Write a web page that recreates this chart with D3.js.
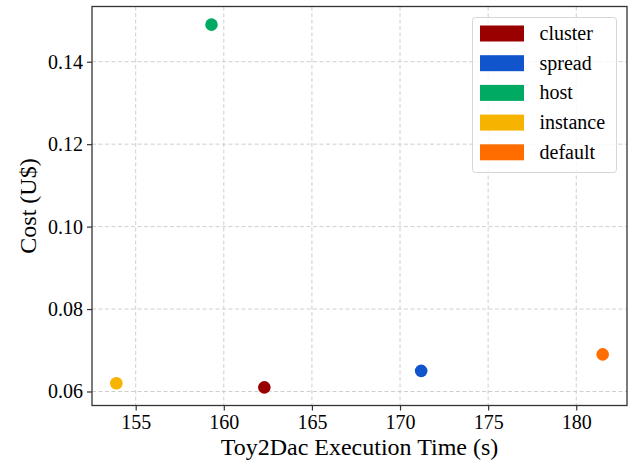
<!DOCTYPE html>
<html lang="en">
<head>
    <meta charset="utf-8">
    <title>Cost vs Execution Time</title>
    <style>
        body {
            margin: 0;
            padding: 0;
            background: #fff;
        }
        .grid line {
            stroke: #cfcfcf;
            stroke-width: 1;
            stroke-dasharray: 4,2.5;
        }
    </style>
</head>
<body>

<div id="chart"></div>

<script src="https://cdnjs.cloudflare.com/ajax/libs/d3/7.8.5/d3.min.js"></script>

<script>
  // Data
  const strategies = ["cluster", "spread", "host", "instance", "default"];
  const execTime = [162.3, 171.2, 159.3, 153.9, 181.5];
  const cost = [0.061, 0.065, 0.149, 0.062, 0.069];
  const colors = ["#990000", "#1155cc", "#00aa63", "#f6b400", "#ff6d00"];
  const xTicks = [155, 160, 165, 170, 175, 180];
  const yTicks = [0.06, 0.08, 0.10, 0.12, 0.14];

  const serif = "'Liberation Serif', 'DejaVu Serif', serif";
  const width = 633, height = 466;
  const margin = {top: 6.5, right: 6, bottom: 60.5, left: 92};
  const innerW = width - margin.left - margin.right;
  const innerH = height - margin.top - margin.bottom;

  const svg = d3.select("#chart")
    .append("svg")
    .attr("width", width)
    .attr("height", height)
    .attr("font-family", serif);

  const g = svg.append("g")
    .attr("transform", `translate(${margin.left},${margin.top})`);

  // matplotlib style 5% padding
  const xPad = (d3.max(execTime) - d3.min(execTime)) * 0.05;
  const yPad = (d3.max(cost) - d3.min(cost)) * 0.05;

  const x = d3.scaleLinear()
    .domain([d3.min(execTime) - xPad, d3.max(execTime) + xPad])
    .range([0, innerW]);

  const y = d3.scaleLinear()
    .domain([d3.min(cost) - yPad, d3.max(cost) + yPad])
    .range([innerH, 0]);

  // Grid
  g.append("g")
    .attr("class", "grid")
    .selectAll("line.v")
    .data(xTicks)
    .enter()
    .append("line")
    .attr("x1", d => x(d)).attr("x2", d => x(d))
    .attr("y1", 0).attr("y2", innerH);

  g.append("g")
    .attr("class", "grid")
    .selectAll("line.h")
    .data(yTicks)
    .enter()
    .append("line")
    .attr("y1", d => y(d)).attr("y2", d => y(d))
    .attr("x1", 0).attr("x2", innerW);

  // Axes
  const xAxis = g.append("g")
    .attr("transform", `translate(0,${innerH})`)
    .call(d3.axisBottom(x).tickValues(xTicks).tickSize(5).tickPadding(4).tickFormat(d3.format("d")));

  const yAxis = g.append("g")
    .call(d3.axisLeft(y).tickValues(yTicks).tickSize(5).tickPadding(4).tickFormat(d3.format(".2f")));

  [xAxis, yAxis].forEach(a => {
    a.attr("font-family", serif);
    a.select(".domain").remove();
    a.selectAll("line").attr("stroke", "#333").attr("stroke-width", 1.2);
    a.selectAll("text")
      .style("font-family", serif)
      .style("font-size", "20px")
      .attr("fill", "#000");
  });

  // Frame
  g.append("rect")
    .attr("width", innerW)
    .attr("height", innerH)
    .attr("fill", "none")
    .attr("stroke", "#333")
    .attr("stroke-width", 1.3);

  // Points
  g.selectAll("circle")
    .data(strategies)
    .enter()
    .append("circle")
    .attr("cx", (d, i) => x(execTime[i]))
    .attr("cy", (d, i) => y(cost[i]))
    .attr("r", 6.3)
    .attr("fill", (d, i) => colors[i]);

  // Axis labels
  svg.append("text")
    .attr("x", margin.left + innerW / 2)
    .attr("y", 455)
    .attr("text-anchor", "middle")
    .style("font-family", serif)
    .style("font-size", "24px")
    .text("Toy2Dac Execution Time (s)");

  svg.append("text")
    .attr("transform", `translate(36,${margin.top + innerH / 2}) rotate(-90)`)
    .attr("text-anchor", "middle")
    .style("font-family", serif)
    .style("font-size", "24px")
    .text("Cost (U$)");

  // Legend
  const legend = svg.append("g").attr("transform", "translate(472.5,17.5)");

  legend.append("rect")
    .attr("width", 144)
    .attr("height", 155)
    .attr("rx", 3)
    .attr("fill", "#fff")
    .attr("fill-opacity", 0.8)
    .attr("stroke", "#d6d6d6")
    .attr("stroke-width", 1);

  const items = legend.selectAll("g.item")
    .data(strategies)
    .enter()
    .append("g")
    .attr("transform", (d, i) => `translate(0,${16 + i * 29.7})`);

  items.append("rect")
    .attr("x", 7.5)
    .attr("y", -8)
    .attr("width", 44)
    .attr("height", 16)
    .attr("fill", (d, i) => colors[i]);

  items.append("text")
    .attr("x", 67)
    .attr("y", 6.5)
    .style("font-family", serif)
    .style("font-size", "20px")
    .text(d => d);
</script>

</body>
</html>
